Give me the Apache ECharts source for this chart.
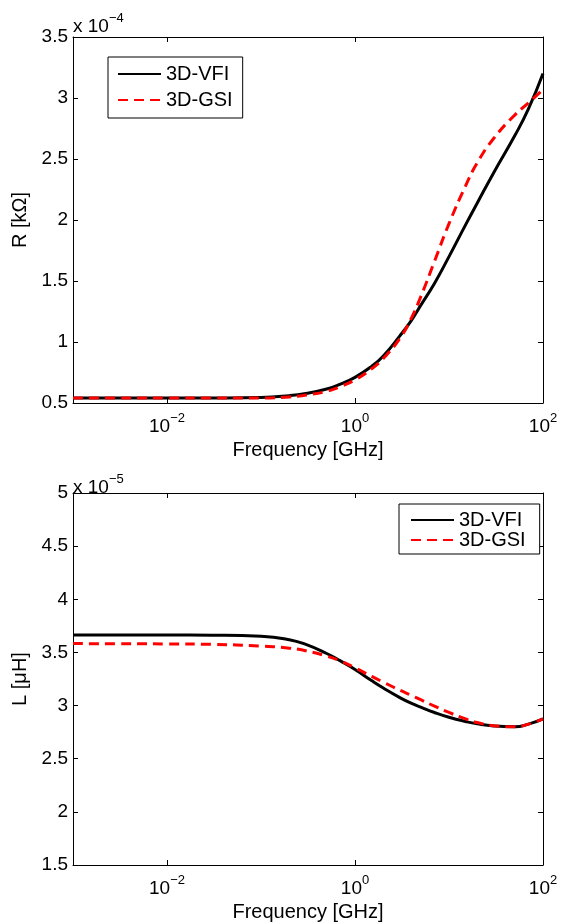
<!DOCTYPE html>
<html>
<head>
<meta charset="utf-8">
<style>
html,body{margin:0;padding:0;background:#fff;}
#chart{width:565px;height:923px;}
</style>
<script src="https://cdn.jsdelivr.net/npm/echarts@6/dist/echarts.min.js"></script>
</head>
<body>
<div id="chart"></div>
<script>
// Frequency samples [GHz]
const freq = [0.001, 0.003, 0.01, 0.03, 0.1, 0.2, 0.3, 0.5, 0.7, 1, 1.5, 2, 3, 4, 5, 7, 10, 15, 20, 30, 50, 70, 100];
// R [kOhm], in units of 1e-4
const rVfi = [0.54, 0.54, 0.54, 0.541, 0.545, 0.56, 0.578, 0.615, 0.655, 0.71, 0.80, 0.885, 1.05, 1.18, 1.30, 1.48, 1.70, 1.96, 2.14, 2.39, 2.69, 2.91, 3.20];
const rGsi = [0.54, 0.54, 0.54, 0.54, 0.541, 0.55, 0.565, 0.595, 0.635, 0.69, 0.78, 0.865, 1.03, 1.20, 1.37, 1.66, 1.97, 2.28, 2.47, 2.67, 2.86, 2.96, 3.07];
// L [uH], in units of 1e-5
const lVfi = [3.664, 3.664, 3.664, 3.662, 3.652, 3.62, 3.575, 3.49, 3.42, 3.34, 3.235, 3.165, 3.075, 3.02, 2.985, 2.935, 2.89, 2.85, 2.828, 2.808, 2.80, 2.825, 2.875];
const lGsi = [3.583, 3.582, 3.58, 3.576, 3.56, 3.54, 3.515, 3.465, 3.42, 3.355, 3.275, 3.22, 3.145, 3.095, 3.055, 2.995, 2.935, 2.875, 2.84, 2.81, 2.80, 2.825, 2.875];
const seriesNames = ['3D-VFI', '3D-GSI'];
const xName = 'Frequency [GHz]';
const yNames = ['R [kΩ]', 'L [μH]'];
const yMult = ['−4', '−5'];

const FF = '"Liberation Sans", Arial, Helvetica, sans-serif';
const pairs = (xs, ys) => xs.map((x, i) => [x, ys[i]]);

function xLabel(v) {
  const l = Math.log10(v);
  const e = Math.round(l);
  if (Math.abs(l - e) > 1e-6 || e % 2 !== 0) return '';
  return '{b|10}{s|' + String(e).replace('-', '−') + '}';
}
const xRich = {
  b: { fontSize: 19, fontFamily: FF, color: '#000', verticalAlign: 'bottom', padding: [5, 0, 0, 0] },
  s: { fontSize: 13, fontFamily: FF, color: '#000', verticalAlign: 'top' }
};

function xAxes(gi) {
  const common = {
    type: 'log', logBase: 100, min: 0.001, max: 100, gridIndex: gi,
    axisLine: { show: true, lineStyle: { color: '#000', width: 1 } },
    axisTick: { show: true, inside: true, length: 5, lineStyle: { color: '#000' } },
    splitLine: { show: false }, minorTick: { show: false }
  };
  return [
    Object.assign({}, common, {
      position: 'bottom',
      name: xName, nameLocation: 'middle', nameGap: 37,
      nameTextStyle: { fontSize: 20, fontFamily: FF, color: '#000' },
      axisLabel: { show: true, margin: 9, formatter: xLabel, rich: xRich, showMinLabel: true, showMaxLabel: true }
    }),
    Object.assign({}, common, { position: 'top', axisLabel: { show: false } })
  ];
}
function yAxes(gi, min, max) {
  const common = {
    type: 'value', min: min, max: max, interval: 0.5, gridIndex: gi,
    axisLine: { show: true, lineStyle: { color: '#000', width: 1 } },
    axisTick: { show: true, inside: true, length: 5, lineStyle: { color: '#000' } },
    splitLine: { show: false }
  };
  return [
    Object.assign({}, common, {
      position: 'left',
      name: yNames[gi], nameLocation: 'middle', nameGap: 38, nameRotate: 90,
      nameTextStyle: { fontSize: 20, fontFamily: FF, color: '#000' },
      axisLabel: { show: true, margin: 5, fontSize: 19, fontFamily: FF, color: '#000' }
    }),
    Object.assign({}, common, { position: 'right', axisLabel: { show: false } })
  ];
}
function lineSeries(name, data, gi, dashed) {
  return {
    type: 'line', name: name, data: data, xAxisIndex: gi * 2, yAxisIndex: gi * 2,
    symbol: 'none', showSymbol: false, smooth: 0.5, silent: true, z: dashed ? 3 : 2,
    lineStyle: { color: dashed ? '#ff0000' : '#000000', width: 3, type: dashed ? [10, 6] : 'solid' },
    itemStyle: { color: dashed ? '#ff0000' : '#000000' }
  };
}
const legendBase = {
  orient: 'vertical', data: seriesNames, itemWidth: 43, itemHeight: 14,
  borderColor: '#000', borderWidth: 1, backgroundColor: '#fff', borderRadius: 0,
  itemStyle: { opacity: 0 },
  textStyle: { fontSize: 20, fontFamily: FF, color: '#000' }, selectedMode: false
};
function multText(e, top) {
  return {
    type: 'text', left: 73, top: top,
    style: {
      text: '{a|x 10}{b|' + e + '}',
      rich: {
        a: { fontSize: 19, fontFamily: FF, fill: '#000', verticalAlign: 'bottom', padding: [5, 0, 0, 0] },
        b: { fontSize: 13, fontFamily: FF, fill: '#000', verticalAlign: 'top' }
      }
    }
  };
}

const chart = echarts.init(document.getElementById('chart'), null, { renderer: 'canvas' });
chart.setOption({
  backgroundColor: '#fff',
  animation: false,
  grid: [
    { left: 73, right: 22, top: 37, height: 366, containLabel: false, show: false },
    { left: 73, right: 22, top: 493, height: 373, containLabel: false, show: false }
  ],
  xAxis: xAxes(0).concat(xAxes(1)),
  yAxis: yAxes(0, 0.5, 3.5).concat(yAxes(1, 1.5, 5)),
  legend: [
    Object.assign({}, legendBase, { left: 108, top: 57, itemGap: 6, padding: [7, 10, 8, 9] }),
    Object.assign({}, legendBase, { left: 399, top: 504, itemGap: 0, padding: [6, 14, 4, 11] })
  ],
  graphic: [multText(yMult[0], 12), multText(yMult[1], 473)],
  series: [
    lineSeries(seriesNames[0], pairs(freq, rVfi), 0, false),
    lineSeries(seriesNames[1], pairs(freq, rGsi), 0, true),
    lineSeries(seriesNames[0], pairs(freq, lVfi), 1, false),
    lineSeries(seriesNames[1], pairs(freq, lGsi), 1, true)
  ]
});
</script>
</body>
</html>
